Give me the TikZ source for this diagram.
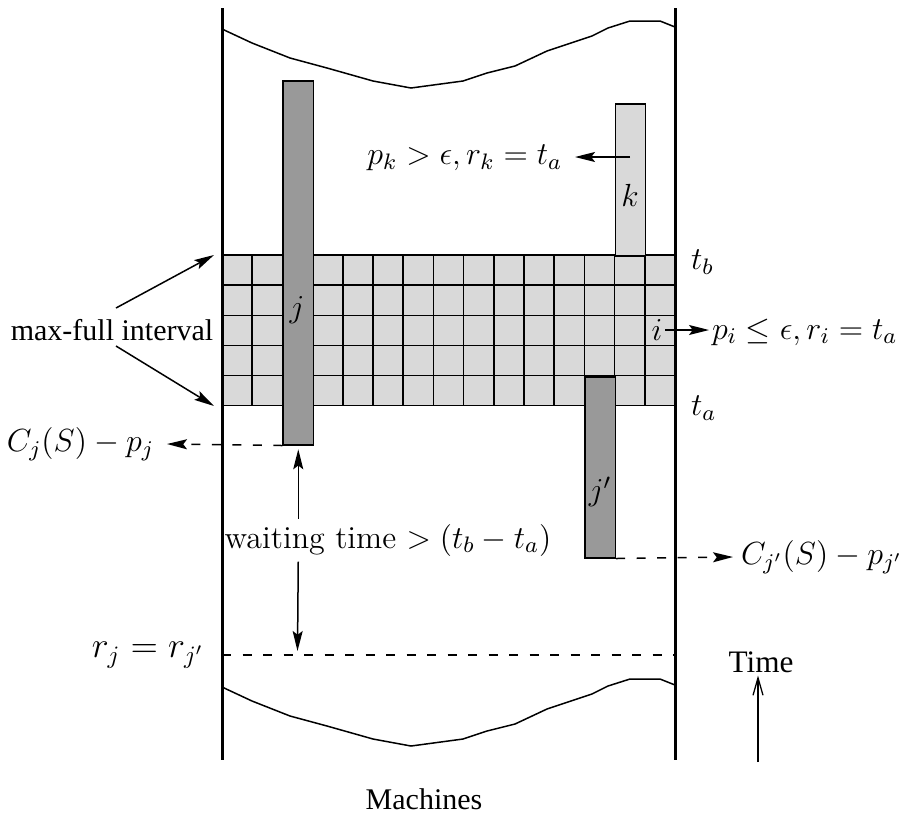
\RequirePackage{fix-cm}
\documentclass[tikz,border=0pt]{standalone}
\usepackage{fontspec}
\usepackage{amsmath}
\usetikzlibrary{positioning,arrows.meta,calc}
\newfontfamily\timesfont{Liberation Serif}
\definecolor{jobdark}{gray}{0.6}
\definecolor{joblight}{gray}{0.85}

\begin{document}
\begin{tikzpicture}[
    x=0.4pt, y=-0.4pt,
    job/.style={draw, line width=0.6pt, inner sep=0pt, anchor=north west, minimum width=12.08pt},
    lbl/.style={inner sep=1pt, font=\fontsize{12.8}{15}\selectfont},
    txt/.style={inner sep=1pt, font=\timesfont\fontsize{12}{14}\selectfont},
    border/.style={line width=1.2pt},
    cut/.style={line width=0.6pt},
    gridline/.style={line width=0.6pt},
    arrow/.style={-{Stealth[length=8pt, width=4pt, inset=1.5pt]}, line width=0.6pt},
    dasharrow/.style={arrow, dash pattern=on 3.6pt off 4.6pt},
    dashline/.style={line width=0.6pt, dash pattern=on 3.6pt off 4.6pt},
    timearrow/.style={-{Straight Barb[length=7pt, width=4pt]}, line width=0.5pt}
]
\useasboundingbox (0,0) rectangle (910,814);

% --- Intervalo max-full: rejilla de 15 x 5 ---
\fill[joblight] (222,255) rectangle (675,405.7);
\foreach \c in {0,...,15}
  \draw[gridline] (222+\c*30.2,255) -- (222+\c*30.2,405.7);
\foreach \r in {0,...,5}
  \draw[gridline] (222,255+\r*30.14) -- (675,255+\r*30.14);

% --- Trabajos j, k y j' ---
\node[job, fill=jobdark, minimum height=145.6pt] (jobj) at (282.4,80) {};
\node[job, fill=joblight, minimum height=60.8pt] (jobk) at (614.6,103) {};
\node[job, fill=jobdark, minimum height=72.4pt] (jobjp) at (584.4,376) {};

\node[lbl] (lj) at (297,310) {$j$};
\node[lbl] (lk) at (630,195) {$k$};
\node[lbl] (ljp) at (600,492) {$j'$};
\node[lbl] (li) at (657,330) {$i$};

% --- Bordes de las maquinas y cortes ---
\draw[border] (222,8) -- (222,760);
\draw[border] (675,8) -- (675,760);
\draw[cut] (222,29) -- (252,43) -- (290,58) -- (327,68) -- (373,81) -- (411,88)
  -- (463,81) -- (487,73) -- (515,66) -- (547,51) -- (592,36) -- (608,28)
  -- (630,21) -- (660,21) -- (675,27);
\draw[cut, shift={(0,658)}] (222,29) -- (252,43) -- (290,58) -- (327,68) -- (373,81) -- (411,88)
  -- (463,81) -- (487,73) -- (515,66) -- (547,51) -- (592,36) -- (608,28)
  -- (630,21) -- (660,21) -- (675,27);

% --- Etiquetas de tiempo ---
\node[lbl, anchor=west] (tb) at (688,262) {$t_b$};
\node[lbl, anchor=west] (ta) at (688,408) {$t_a$};

\coordinate (kout) at (630,157);
\node[lbl, inner xsep=5pt, anchor=east] (pk) at (575,158) {$p_k > \epsilon, r_k = t_a$};
\draw[arrow] (kout) -- (kout -| pk.east);

\node[lbl, anchor=west] (pi) at (709,332) {$p_i \le \epsilon, r_i = t_a$};
\draw[arrow] (li.east) -- (li.east -| pi.west);

% --- Intervalo max-full ---
\node[txt] (mfi) at (112,330) {max-full interval};
\coordinate (mfa) at (214,255);
\coordinate (mfb) at (214,406);
\draw[arrow] ($(mfi)+(4,-22)$) -- (mfa);
\draw[arrow] ($(mfi)+(4,16)$) -- (mfb);

% --- Tiempos de inicio ---
\node[lbl, inner xsep=5pt, anchor=east] (cj) at (167,444) {$C_j(S) - p_j$};
\draw[dasharrow] (jobj.south west) -- (cj.east);
\node[lbl, inner xsep=3pt, anchor=west] (cjp) at (733,557) {$C_{j'}(S) - p_{j'}$};
\draw[dasharrow] (jobjp.south east) -- (cjp.west);

% --- Tiempo de espera y liberacion ---
\node[lbl, inner sep=2pt] (wait) at (388,540) {waiting time $> (t_b - t_a)$};
\coordinate (rl) at (222,655);
\coordinate (rr) at (675,655);
\coordinate (rtip) at (297.5,651);
\draw[dashline] (rl) -- (rr);
\node[lbl, font=\fontsize{14.4}{17}\selectfont, anchor=east] (rj) at (207,655) {$r_j = r_{j'}$};
\draw[arrow] (wait.north -| jobj.south) -- ([yshift=-1.5pt]jobj.south);
\draw[arrow] (wait.south -| jobj.south) -- (rtip);

% --- Ejes ---
\node[txt, font=\timesfont\fontsize{12.5}{14}\selectfont] (time) at (761,662) {Time};
\coordinate (tbase) at (758,762);
\draw[timearrow] (tbase) -- (tbase |- time.south);
\node[txt] (mach) at (424,799) {Machines};

\end{tikzpicture}
\end{document}
